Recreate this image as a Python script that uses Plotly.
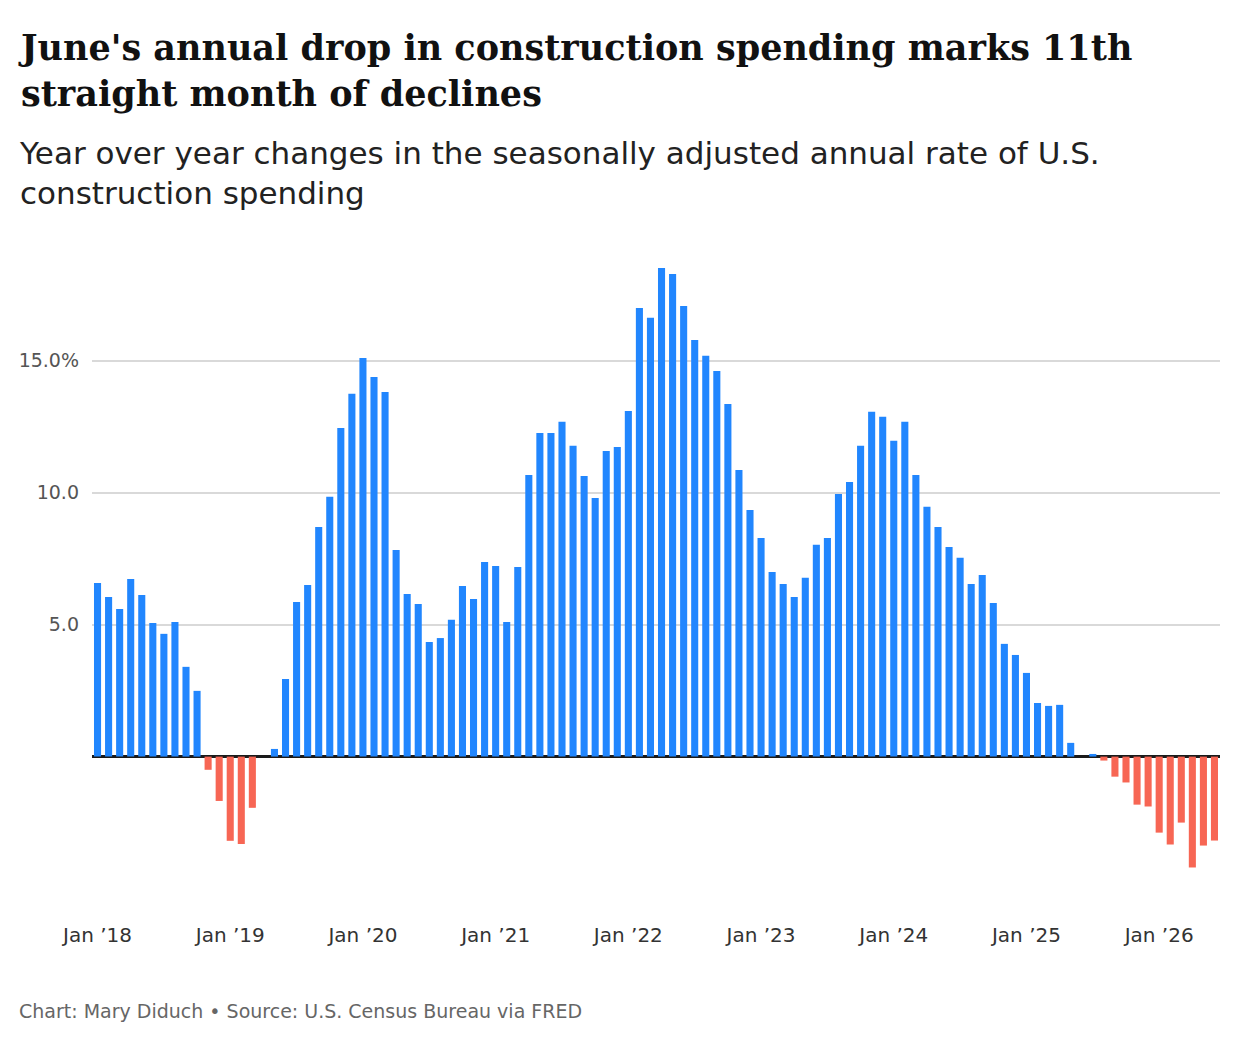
import plotly.graph_objects as go

# monthly YoY change (%), Jan 2018 .. Jun 2026
months = [f"{y}-{m:02d}" for y in range(2018, 2027) for m in range(1, 13)][:102]

yoy_2018 = [6.58, 6.05, 5.59, 6.73, 6.12, 5.06, 4.65, 5.10, 3.40, 2.49, -0.50, -1.68]
yoy_2019 = [-3.19, -3.31, -1.94, 0.0, 0.29, 2.94, 5.86, 6.50, 8.70, 9.84, 12.45, 13.74]
yoy_2020 = [15.10, 14.38, 13.81, 7.83, 6.16, 5.78, 4.34, 4.49, 5.18, 6.46, 5.97, 7.37]
yoy_2021 = [7.22, 5.10, 7.18, 10.67, 12.26, 12.26, 12.68, 11.77, 10.63, 9.80, 11.58, 11.73]
yoy_2022 = [13.09, 16.99, 16.62, 18.51, 18.28, 17.07, 15.78, 15.18, 14.61, 13.36, 10.86, 9.34]
yoy_2023 = [8.28, 6.99, 6.54, 6.05, 6.77, 8.02, 8.28, 9.95, 10.40, 11.77, 13.06, 12.87]
yoy_2024 = [11.96, 12.68, 10.67, 9.46, 8.70, 7.94, 7.53, 6.54, 6.88, 5.82, 4.27, 3.85]
yoy_2025 = [3.17, 2.03, 1.92, 1.96, 0.52, 0.0, 0.10, -0.15, -0.76, -0.98, -1.82, -1.89]
yoy_2026 = [-2.88, -3.33, -2.50, -4.20, -3.37, -3.18]

values = yoy_2018 + yoy_2019 + yoy_2020 + yoy_2021 + yoy_2022 + yoy_2023 + yoy_2024 + yoy_2025 + yoy_2026

tick_months = ["2018-01", "2019-01", "2020-01", "2021-01", "2022-01", "2023-01", "2024-01", "2025-01", "2026-01"]
tick_labels = ["Jan ’18", "Jan ’19", "Jan ’20", "Jan ’21", "Jan ’22", "Jan ’23", "Jan ’24", "Jan ’25", "Jan ’26"]

y_ticks = [5, 10, 15]
y_tick_labels = ["5.0", "10.0", "15.0%"]

BLUE = "#2186fe"
RED = "#f76654"
SANS = "DejaVu Sans, sans-serif"

# page shows the figure with an 8px body margin, so margins are offset by it
W, H = 1240, 1044
ML, MR, MT, MB = 84, 28, 247, 137


def px_x(x):
    return (x - ML) / (W - ML - MR)


def px_y(y):
    return (H - MB - y) / (H - MT - MB)


colors = [BLUE if v >= 0 else RED for v in values]

fig = go.Figure()
fig.add_trace(go.Bar(x=months, y=values, marker_color=colors, marker_line_width=0))

fig.update_layout(
    width=W, height=H,
    margin=dict(l=ML, r=MR, t=MT, b=MB),
    plot_bgcolor="white", paper_bgcolor="white",
    bargap=0.36,
    showlegend=False,
    font=dict(family=SANS, color="#555555"),
)

fig.update_xaxes(
    type="category",
    tickvals=tick_months, ticktext=tick_labels,
    tickfont=dict(size=20, color="#333333"),
    showgrid=False, showline=False, ticks="",
    ticklabelstandoff=6,
)
fig.update_yaxes(
    range=[-6, 19],
    tickvals=y_ticks, ticktext=y_tick_labels,
    tickfont=dict(size=19, color="#555555"),
    showgrid=True, gridcolor="#d9d9d9", gridwidth=2,
    zeroline=True, zerolinecolor="#1a1a1a", zerolinewidth=2.5,
    ticks="", ticklabelstandoff=12,
)

fig.add_annotation(text="<b>June's annual drop in construction spending marks 11th<br>straight month of declines</b>",
                   x=px_x(8), y=px_y(62), xref="paper", yref="paper",
                   xanchor="left", yanchor="middle", align="left", showarrow=False,
                   font=dict(family="DejaVu Serif", size=35, color="#111111"))

fig.add_annotation(text="Year over year changes in the seasonally adjusted annual rate of U.S.<br>construction spending",
                   x=px_x(9), y=px_y(165), xref="paper", yref="paper",
                   xanchor="left", yanchor="middle", align="left", showarrow=False,
                   font=dict(family=SANS, size=31, color="#222222"))

fig.add_annotation(text="Chart: Mary Diduch • Source: U.S. Census Bureau via FRED",
                   x=px_x(9), y=px_y(1003), xref="paper", yref="paper",
                   xanchor="left", yanchor="middle", showarrow=False,
                   font=dict(family=SANS, size=19, color="#666666"))

fig.write_html("out.html")
